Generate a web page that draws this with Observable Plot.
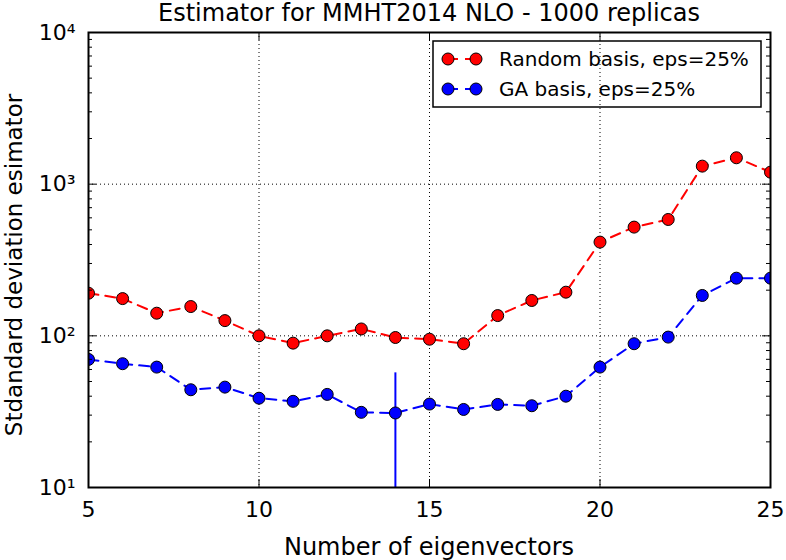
<!DOCTYPE html>
<html><head><meta charset="utf-8">
<script src="https://cdn.jsdelivr.net/npm/d3@7"></script>
<script src="https://cdn.jsdelivr.net/npm/@observablehq/plot@0.6"></script>
<style>
body{margin:0;background:#fff}
#chart svg{font-family:"DejaVu Sans",sans-serif;overflow:visible}
</style>
</head><body><div id="chart"></div>
<script>
// ---- data ----
const eigenvectors = [5,6,7,8,9,10,11,12,13,14,15,16,17,18,19,20,21,22,23,24,25];
const randomBasis = [191,176,141,156,126,100,89.5,100,111,97.5,95,88.7,136,171,194,415,521,585,1315,1493,1200];
const gaBasis = [69.9,65.5,62.2,44.1,45.9,38.8,37.0,41.1,31.3,31.0,35.5,32.7,35.3,34.6,40.0,62.2,88.7,98.1,184.6,240,240];
const errorX = [14];
const errorLow = [5];
const errorHigh = [57];
const seriesNames = ["Random basis, eps=25%", "GA basis, eps=25%"];
const seriesColors = ["#ff0000", "#0000ff"];
const xTicks = [5,10,15,20,25];
const yMajor = [10,100,1000,10000];
const yMajorLabels = ["10¹","10²","10³","10⁴"];
const yMinor = [20,30,40,50,60,70,80,90,200,300,400,500,600,700,800,900,2000,3000,4000,5000,6000,7000,8000,9000];
const title = "Estimator for MMHT2014 NLO - 1000 replicas";
const xLabel = "Number of eigenvectors";
const yLabel = "Stdandard deviation esimator";

// ---- layout ----
const W = 786, H = 560;
const mL = 88, mR = 16, mT = 32, mB = 73;
const pw = W - mL - mR, ph = H - mT - mB;
const fs = 20, fsT = 22, fsL = 24;

const rows = [
  ...eigenvectors.map((x,i)=>({x, y: randomBasis[i], s: seriesNames[0]})),
  ...eigenvectors.map((x,i)=>({x, y: gaBasis[i], s: seriesNames[1]}))
];
const errs = errorX.map((x,i)=>({x, lo: errorLow[i], hi: errorHigh[i]}));
const colorOf = s => seriesColors[seriesNames.indexOf(s)];

const plot = Plot.plot({
  width: W, height: H,
  marginLeft: mL, marginRight: mR, marginTop: mT, marginBottom: mB,
  style: {fontFamily: "DejaVu Sans", fontSize: fsT + "px", background: "white", color: "black"},
  x: {type: "linear", domain: [5,25]},
  y: {type: "log", domain: [10,10000]},
  marks: [
    Plot.gridX(xTicks, {stroke: "black", strokeOpacity: 1, strokeWidth: 1, strokeDasharray: "1,3"}),
    Plot.gridY([100,1000], {stroke: "black", strokeOpacity: 1, strokeWidth: 1, strokeDasharray: "1,3"}),
    Plot.ruleX(errs, {x: "x", y1: "lo", y2: "hi", stroke: seriesColors[1], strokeWidth: 2, clip: true}),
    Plot.line(rows, {x: "x", y: "y", z: "s", stroke: d => colorOf(d.s), strokeWidth: 2, strokeDasharray: "10,7", clip: true}),
    Plot.dot(rows, {x: "x", y: "y", r: 6, fill: d => colorOf(d.s), stroke: "black", strokeWidth: 1, clip: true}),
    // ticks (inside) on all sides
    Plot.tickY(yMajor, {y: d => d, insetRight: pw - 8, stroke: "black", strokeWidth: 1}),
    Plot.tickY(yMajor, {y: d => d, insetLeft: pw - 8, stroke: "black", strokeWidth: 1}),
    Plot.tickY(yMinor, {y: d => d, insetRight: pw - 4, stroke: "black", strokeWidth: 1}),
    Plot.tickY(yMinor, {y: d => d, insetLeft: pw - 4, stroke: "black", strokeWidth: 1}),
    Plot.tickX(xTicks, {x: d => d, insetTop: ph - 8, stroke: "black", strokeWidth: 1}),
    Plot.tickX(xTicks, {x: d => d, insetBottom: ph - 8, stroke: "black", strokeWidth: 1}),
    Plot.axisX(xTicks, {tickSize: 0, tickPadding: 14, fontSize: fsT, label: null, tickFormat: d => String(d)}),
    Plot.axisY(yMajor, {tickSize: 0, tickPadding: 13, fontSize: fsT, label: null, tickFormat: d => yMajorLabels[yMajor.indexOf(d)]}),
    Plot.frame({stroke: "black", strokeWidth: 2})
  ]
});
document.getElementById("chart").appendChild(plot);

// ---- titles and legend ----
const svg = d3.select(plot);
svg.append("text").attr("x", mL + pw/2).attr("y", 21).attr("text-anchor","middle")
  .attr("font-size", fsL).attr("fill","black").text(title);
svg.append("text").attr("x", mL + pw/2).attr("y", 555).attr("text-anchor","middle")
  .attr("font-size", fsL).attr("fill","black").text(xLabel);
svg.append("text").attr("transform", `translate(22,265) rotate(-90)`).attr("text-anchor","middle")
  .attr("font-size", 23).attr("fill","black").text(yLabel);

const lg = svg.append("g");
lg.append("rect").attr("x", 433).attr("y", 41).attr("width", 328).attr("height", 66)
  .attr("fill","none").attr("stroke","black").attr("stroke-width",1.5);
seriesNames.forEach((name, i) => {
  const cy = 59 + i*30;
  const c = seriesColors[i];
  lg.append("line").attr("x1",448).attr("x2",476).attr("y1",cy).attr("y2",cy)
    .attr("stroke",c).attr("stroke-width",2).attr("stroke-dasharray","10,7");
  [448,476].forEach(cx => lg.append("circle").attr("cx",cx).attr("cy",cy).attr("r",6)
    .attr("fill",c).attr("stroke","black").attr("stroke-width",1));
  lg.append("text").attr("x",499).attr("y",cy).attr("dy","0.35em").attr("font-size",fs)
    .attr("text-anchor","start").attr("fill","black").text(name);
});
</script>
</body></html>
